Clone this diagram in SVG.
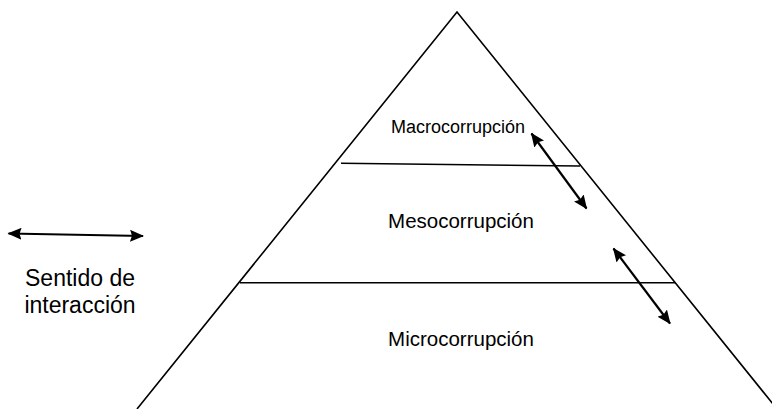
<svg xmlns="http://www.w3.org/2000/svg" width="772" height="409" viewBox="0 0 772 409">
<style>
.ln{stroke:#000;stroke-width:1.6;fill:none}
.ar{stroke:#000;stroke-width:2.2;fill:none;marker-start:url(#h);marker-end:url(#h)}
.t{font-family:"Liberation Sans",Arial,sans-serif;fill:#000;text-anchor:middle}
</style>
<defs>
<marker id="h" viewBox="0 0 14 12" refX="13" refY="6" markerWidth="14" markerHeight="12" markerUnits="userSpaceOnUse" orient="auto-start-reverse">
<path d="M0,0 L14,6 L0,12 L2,6 Z" fill="#000"/>
</marker>
</defs>
<rect width="772" height="409" fill="#fff"/>
<g id="pyramid">
<polyline class="ln" points="137,409 457,12 777,409"/>
<line class="ln" x1="341" y1="163.3" x2="580" y2="166"/>
<line class="ln" x1="240" y1="282.7" x2="675" y2="282.7"/>
</g>
<g id="macro"><text class="t" x="458" y="133" font-size="18">Macrocorrupción</text></g>
<g id="meso"><text class="t" x="461" y="228" font-size="20.5">Mesocorrupción</text></g>
<g id="micro"><text class="t" x="461" y="346" font-size="20.5">Microcorrupción</text></g>
<g id="legend">
<text class="t" x="80" y="285.5" font-size="23">Sentido de</text>
<text class="t" x="80" y="313" font-size="23">interacción</text>
</g>
<g id="connectors">
<line class="ar" x1="8.5" y1="233.5" x2="143" y2="236"/>
<line class="ar" x1="531.5" y1="133.5" x2="586.5" y2="208.5"/>
<line class="ar" x1="613.5" y1="248.5" x2="670" y2="323.5"/>
</g>
</svg>
